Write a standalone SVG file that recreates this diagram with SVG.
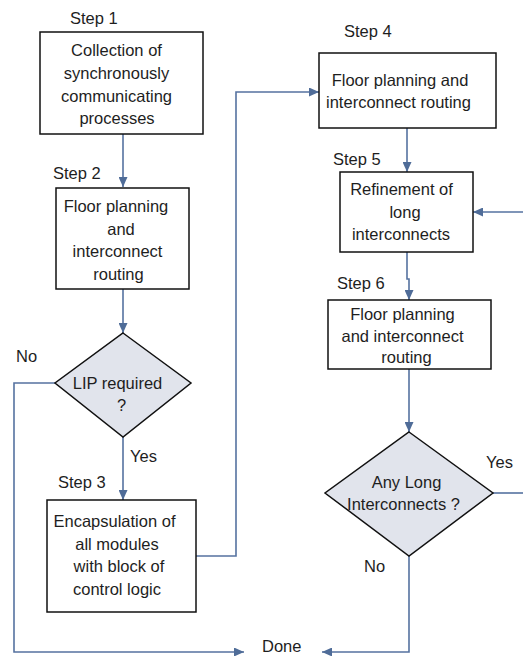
<svg xmlns="http://www.w3.org/2000/svg" width="523" height="656" viewBox="0 0 523 656">
<style>
  .box { fill: #ffffff; stroke: #111111; stroke-width: 1.5; }
  .dia { fill: #e1e4ec; stroke: #111111; stroke-width: 1.5; }
  .t { font-family: "Liberation Sans", Arial, sans-serif; font-size: 16.5px; fill: #1e1e1e; text-anchor: middle; }
  .l { font-family: "Liberation Sans", Arial, sans-serif; font-size: 16.5px; fill: #1e1e1e; }
  .c { fill: none; stroke: #5572a0; stroke-width: 1.6; }
</style>
<defs>
  <marker id="arr" markerUnits="userSpaceOnUse" markerWidth="10" markerHeight="9" refX="10" refY="4.5" orient="auto">
    <path d="M0,0 L10,4.5 L0,9 z" fill="#4f6c98"/>
  </marker>
</defs>
<rect width="523" height="656" fill="#ffffff"/>

<g id="connectors">
  <path class="c" d="M123,134 V187" marker-end="url(#arr)"/>
  <path class="c" d="M123,289 V333" marker-end="url(#arr)"/>
  <path class="c" d="M123,437 V500" marker-end="url(#arr)"/>
  <path class="c" d="M55,383 H14 V652 H244" marker-end="url(#arr)"/>
  <path class="c" d="M196,556 H236 V92 H319" marker-end="url(#arr)"/>
  <path class="c" d="M407,128 V172" marker-end="url(#arr)"/>
  <path class="c" d="M523,212 H473" marker-end="url(#arr)"/>
  <path class="c" d="M407,252 V279 H409 V300" marker-end="url(#arr)"/>
  <path class="c" d="M409,369 V432" marker-end="url(#arr)"/>
  <path class="c" d="M493,493 H523"/>
  <path class="c" d="M409,556 V652 H322" marker-end="url(#arr)"/>
  <text class="l" x="16" y="362">No</text>
  <text class="l" x="130" y="462">Yes</text>
  <text class="l" x="486" y="468">Yes</text>
  <text class="l" x="364" y="572">No</text>
</g>

<g id="step1">
  <text class="l" x="70" y="24">Step 1</text>
  <rect class="box" x="40" y="32" width="163" height="102"/>
  <text class="t" x="116.5" y="56">Collection of</text>
  <text class="t" x="116.5" y="79">synchronously</text>
  <text class="t" x="116.5" y="101.5">communicating</text>
  <text class="t" x="117" y="124">processes</text>
</g>

<g id="step2">
  <text class="l" x="53" y="179">Step 2</text>
  <rect class="box" x="56" y="188" width="133" height="101"/>
  <text class="t" x="116" y="212">Floor planning</text>
  <text class="t" x="121" y="234.5">and</text>
  <text class="t" x="117.5" y="257">interconnect</text>
  <text class="t" x="118.5" y="279.5">routing</text>
</g>

<g id="decision1">
  <polygon class="dia" points="123,333 191,383 123,437 55,383"/>
  <text class="t" x="117.5" y="389">LIP required</text>
  <text class="t" x="121.5" y="411">?</text>
</g>

<g id="step3">
  <text class="l" x="58" y="488">Step 3</text>
  <rect class="box" x="47" y="500" width="149" height="112"/>
  <text class="t" x="114.5" y="527">Encapsulation of</text>
  <text class="t" x="117" y="549.5">all modules</text>
  <text class="t" x="119" y="572">with block of</text>
  <text class="t" x="117" y="595">control logic</text>
</g>

<g id="step4">
  <text class="l" x="344" y="37">Step 4</text>
  <rect class="box" x="319" y="53" width="177" height="75"/>
  <text class="t" x="400" y="86">Floor planning and</text>
  <text class="t" x="398.5" y="107.5">interconnect routing</text>
</g>

<g id="step5">
  <text class="l" x="333" y="165">Step 5</text>
  <rect class="box" x="340" y="172" width="133" height="80"/>
  <text class="t" x="401.5" y="195">Refinement of</text>
  <text class="t" x="405" y="218">long</text>
  <text class="t" x="401" y="240">interconnects</text>
</g>

<g id="step6">
  <text class="l" x="337" y="289">Step 6</text>
  <rect class="box" x="328" y="300" width="163" height="69"/>
  <text class="t" x="402.5" y="320">Floor planning</text>
  <text class="t" x="402.5" y="342">and interconnect</text>
  <text class="t" x="406.5" y="363">routing</text>
</g>

<g id="decision2">
  <polygon class="dia" points="409,432 493,493 409,556 325,493"/>
  <text class="t" x="406.5" y="488">Any Long</text>
  <text class="t" x="403.5" y="510">Interconnects ?</text>
</g>

<g id="done">
  <text class="l" x="262" y="652">Done</text>
</g>
</svg>
